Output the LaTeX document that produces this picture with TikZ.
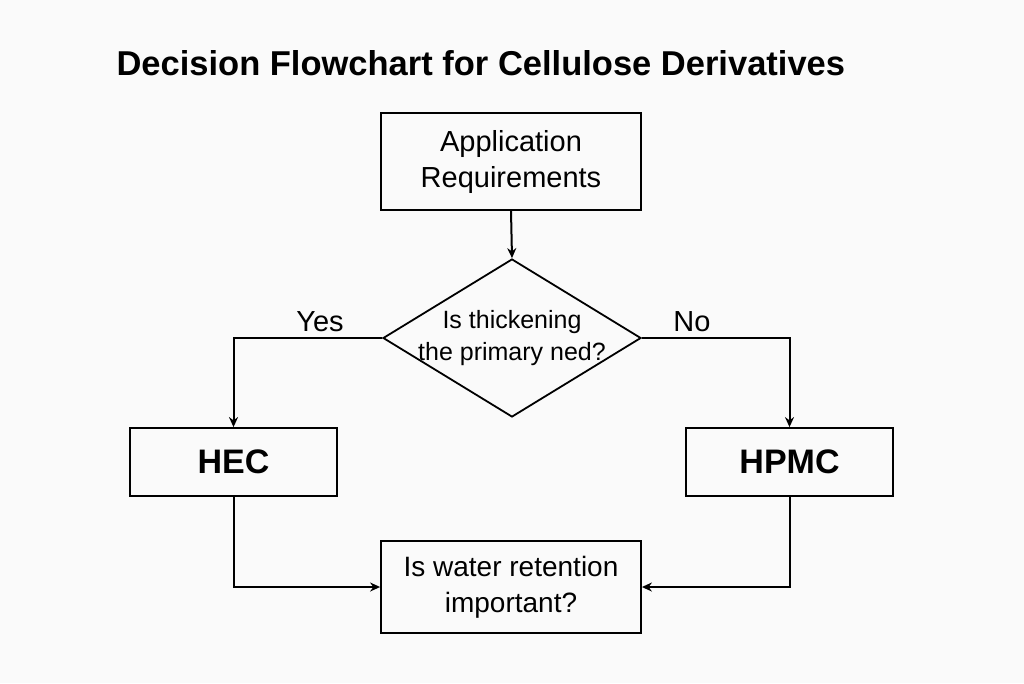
\documentclass[tikz,border=0pt]{standalone}
\usepackage{fontspec}
\setmainfont{Liberation Sans}
\usetikzlibrary{arrows.meta,shapes.geometric}
\begin{document}
\begin{tikzpicture}[x=1pt,y=-1pt,
  box/.style={draw,line width=1.8pt,align=center,inner sep=0pt},
  lbl/.style={font=\fontsize{29}{33}\selectfont}]
\fill[white!98!black] (0,0) rectangle (1024,683);
\useasboundingbox (0,0) rectangle (1024,683);
\node[anchor=west,font=\bfseries\fontsize{34.5}{38}\selectfont] (title) at (113,63) {Decision Flowchart for Cellulose Derivatives};
\node[box,minimum width=260pt,minimum height=97pt,font=\fontsize{29}{36}\selectfont] (app) at (511,161.5) {Application\\Requirements};
\node[box,diamond,aspect=1.63,minimum width=258pt,minimum height=158pt] (dec) at (512,338) {};
\node[align=center,font=\fontsize{25}{32}\selectfont] (dect) at (512,338) {Is thickening\\the primary ned?};
\node[box,minimum width=207pt,minimum height=68pt,font=\bfseries\fontsize{34}{38}\selectfont] (hec) at (233.5,462) {HEC};
\node[box,minimum width=207pt,minimum height=68pt,font=\bfseries\fontsize{34}{38}\selectfont] (hpmc) at (789.5,462) {HPMC};
\node[box,minimum width=260pt,minimum height=92pt,font=\fontsize{28}{36}\selectfont] (water) at (511,587) {Is water retention\\important?};
\begin{scope}[line width=2pt,arrows={-Stealth[length=10pt,width=9pt]}]
\draw (app.south) -- (dec.north);
\draw (dec.west) -| (hec.north);
\draw (dec.east) -| (hpmc.north);
\draw (hec.south) |- (water.west);
\draw (hpmc.south) |- (water.east);
\end{scope}
\node[lbl] (yes) at (320,322) {Yes};
\node[lbl] (no) at (692,322) {No};
\end{tikzpicture}
\end{document}
